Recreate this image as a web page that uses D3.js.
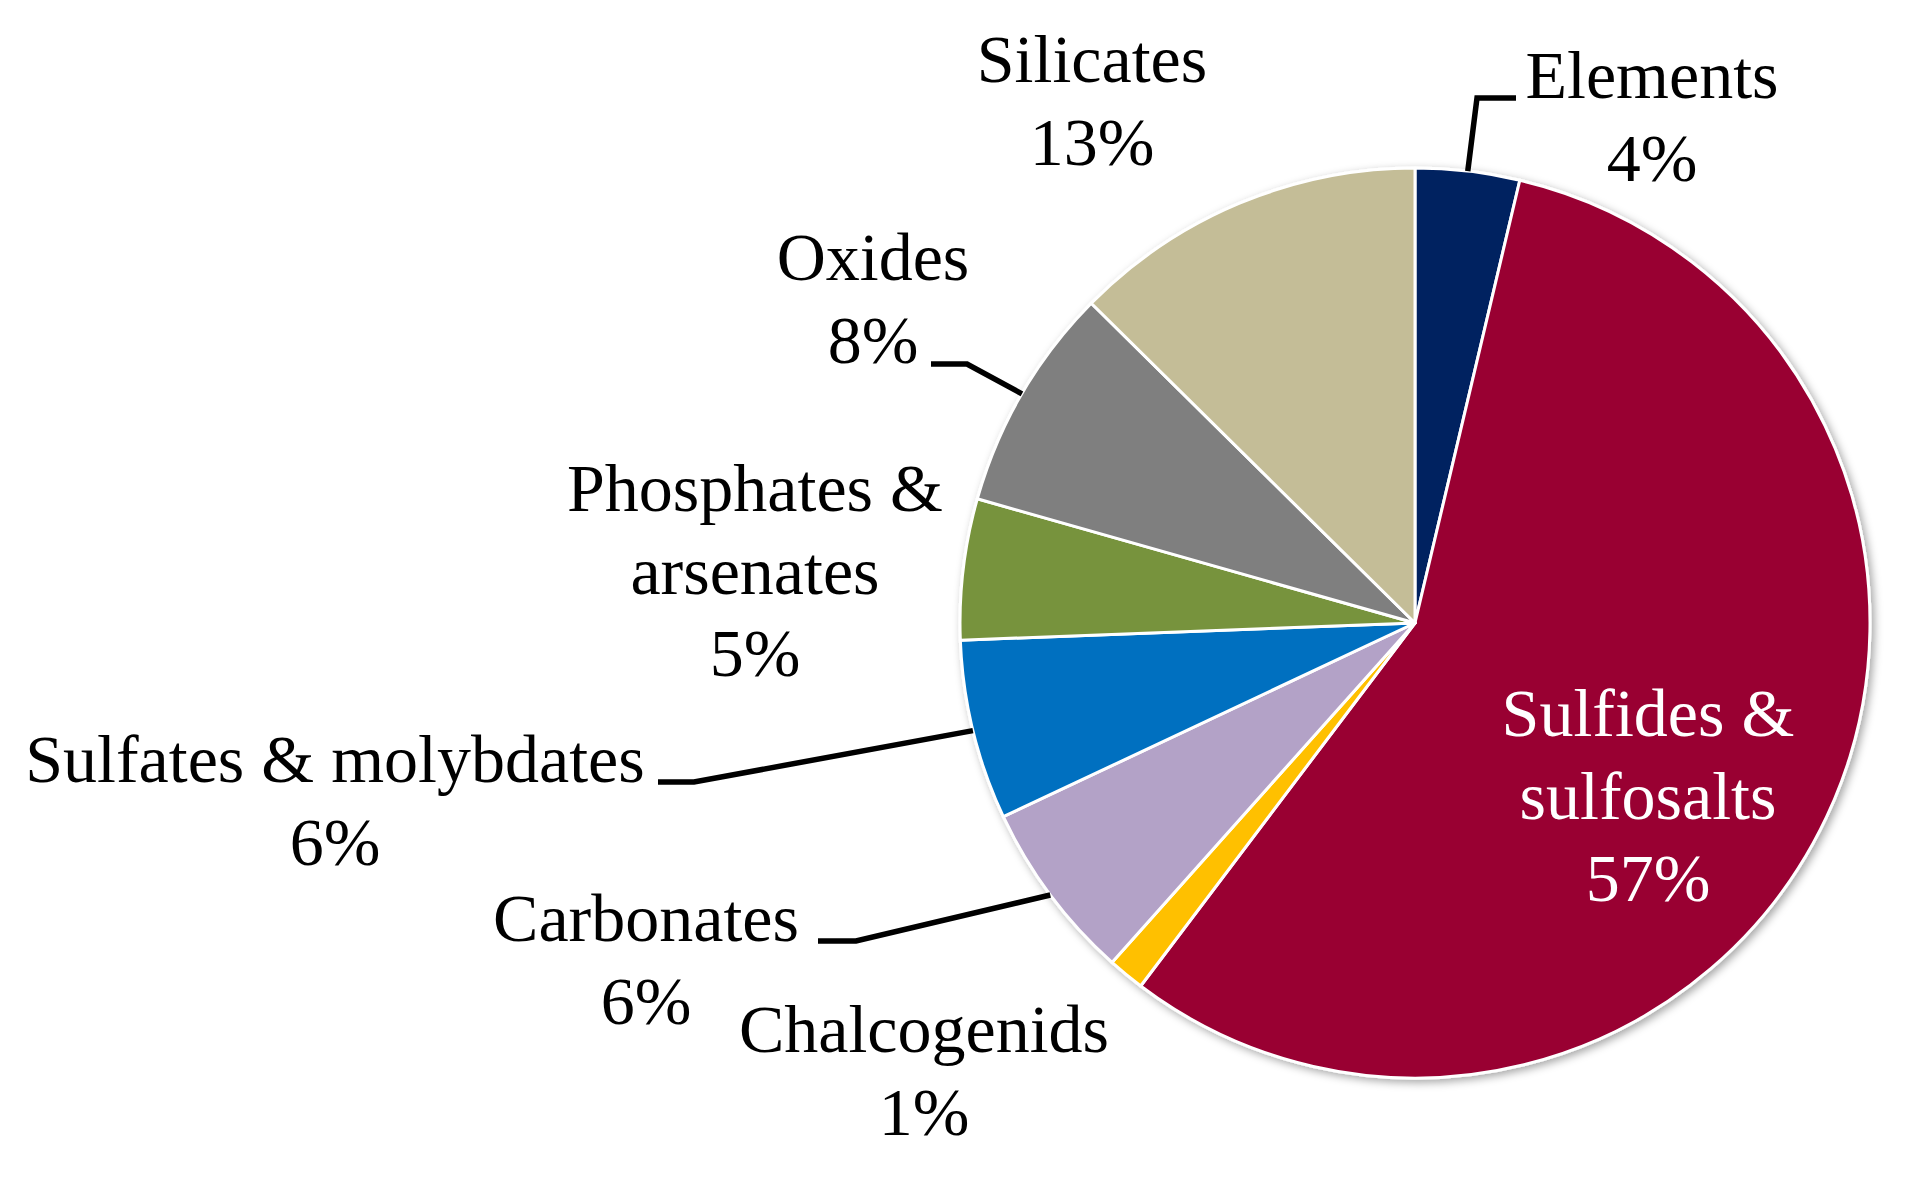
<!DOCTYPE html>
<html>
<head>
<meta charset="utf-8">
<script src="https://cdn.jsdelivr.net/npm/d3@7"></script>
<style>
  body { margin: 0; background: #ffffff; }
</style>
</head>
<body>
<div class="mineral_chart"></div>
<script>
// Data (clockwise from 12 o'clock)
var categories = ["Elements", "Sulfides & sulfosalts", "Chalcogenids", "Carbonates",
                  "Sulfates & molybdates", "Phosphates & arsenates", "Oxides", "Silicates"];
var shares = [3.7, 56.6, 1.3, 6.4, 6.4, 5.0, 8.0, 12.6];
var sliceColors = ["#002060", "#990033", "#FFC000", "#B3A2C7",
                   "#0070C0", "#77933C", "#7F7F7F", "#C4BD97"];

// Label lines as they wrap in the chart
var labelLines = {
  "Elements": ["Elements"],
  "Sulfides & sulfosalts": ["Sulfides &", "sulfosalts"],
  "Chalcogenids": ["Chalcogenids"],
  "Carbonates": ["Carbonates"],
  "Sulfates & molybdates": ["Sulfates & molybdates"],
  "Phosphates & arsenates": ["Phosphates &", "arsenates"],
  "Oxides": ["Oxides"],
  "Silicates": ["Silicates"]
};

// Set the dimensions
var width = 1929,
    height = 1183,
    cx = 1415,
    cy = 623,
    radius = 455,
    lineGap = 82.5;

// Label placement: centre x, first baseline y, leader elbow and end
var labelLayout = {
  "Elements": {x: 1652, y: 98, elbow: [1477, 98], end: 1516},
  "Sulfides & sulfosalts": {x: 1648, y: 736},
  "Chalcogenids": {x: 924, y: 1052},
  "Carbonates": {x: 646, y: 941, elbow: [856, 941], end: 818},
  "Sulfates & molybdates": {x: 335, y: 782, elbow: [694, 782], end: 658},
  "Phosphates & arsenates": {x: 755, y: 511},
  "Oxides": {x: 873, y: 280, elbow: [967, 364], end: 931},
  "Silicates": {x: 1092, y: 82}
};

var data = categories.map(function(c, i) {
  return {name: c, value: shares[i], color: sliceColors[i]};
});

var svg = d3.select(".mineral_chart")
  .append("svg")
  .attr("width", width)
  .attr("height", height);

// Soft shadow round the pie
var defs = svg.append("defs");
defs.append("filter")
  .attr("id", "pieShadow")
  .attr("x", "-10%").attr("y", "-10%")
  .attr("width", "120%").attr("height", "120%")
  .append("feDropShadow")
  .attr("dx", 3)
  .attr("dy", 3)
  .attr("stdDeviation", 4)
  .attr("flood-color", "#000000")
  .attr("flood-opacity", 0.35);

var pie = d3.pie()
  .sort(null)
  .value(d => d.value);

var arc = d3.arc()
  .innerRadius(0)
  .outerRadius(radius);

var arcs = pie(data);

var g = svg.append("g")
  .attr("transform", "translate(" + cx + "," + cy + ")");

g.append("g")
  .attr("filter", "url(#pieShadow)")
  .selectAll("path")
  .data(arcs)
  .enter()
  .append("path")
    .attr("d", arc)
    .attr("fill", d => d.data.color)
    .attr("stroke", "#ffffff")
    .attr("stroke-width", 3)
    .attr("stroke-linejoin", "round");

// Leader lines from the rim at the slice mid angle
function rimPoint(d) {
  var a = (d.startAngle + d.endAngle) / 2;
  return [cx + radius * Math.sin(a), cy - radius * Math.cos(a)];
}

arcs.forEach(function(d) {
  var lay = labelLayout[d.data.name];
  if (!lay.elbow) return;
  var p = rimPoint(d);
  svg.append("path")
    .attr("d", d3.line()([p, lay.elbow, [lay.end, lay.elbow[1]]]))
    .attr("fill", "none")
    .attr("stroke", "#000000")
    .attr("stroke-width", 5.5);
});

// Labels
arcs.forEach(function(d) {
  var lay = labelLayout[d.data.name];
  var lines = labelLines[d.data.name].concat([Math.round(d.data.value) + "%"]);
  var txt = svg.append("text")
    .attr("text-anchor", "middle")
    .style("font-family", "'Liberation Serif', 'Times New Roman', serif")
    .style("font-size", "68px")
    .attr("fill", d.data.name === "Sulfides & sulfosalts" ? "#ffffff" : "#000000");
  lines.forEach(function(l, i) {
    txt.append("tspan")
      .attr("x", lay.x)
      .attr("y", lay.y + i * lineGap)
      .text(l);
  });
});
</script>
</body>
</html>
